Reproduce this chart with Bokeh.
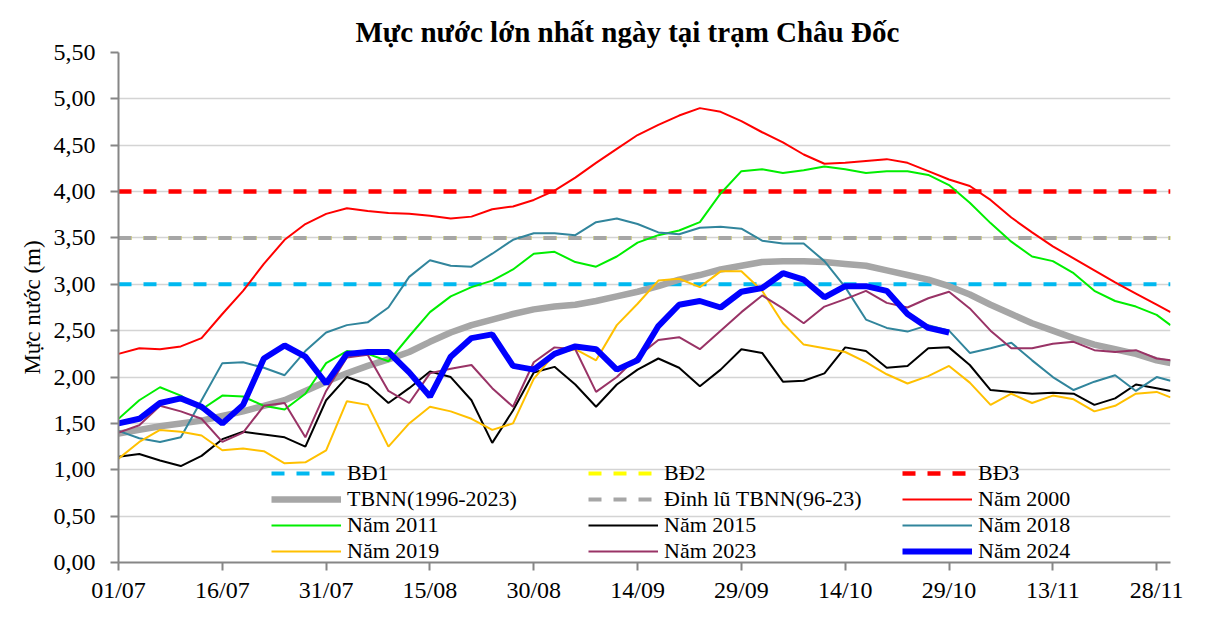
from bokeh.plotting import figure
from bokeh.models import Legend, LegendItem, FixedTicker, Range1d
from bokeh.embed import file_html
from bokeh.resources import INLINE

# ---------------- data ----------------
title_text = "Mực nước lớn nhất ngày tại trạm Châu Đốc"
y_label = "Mực nước (m)"

tick_days = [0, 15, 30, 45, 60, 75, 90, 105, 120, 135, 150]
tick_labels = ["01/07", "16/07", "31/07", "15/08", "30/08", "14/09",
               "29/09", "14/10", "29/10", "13/11", "28/11"]
y_ticks = [0.0, 0.5, 1.0, 1.5, 2.0, 2.5, 3.0, 3.5, 4.0, 4.5, 5.0, 5.5]
y_tick_labels = ["0,00", "0,50", "1,00", "1,50", "2,00", "2,50",
                 "3,00", "3,50", "4,00", "4,50", "5,00", "5,50"]

# day index counted from 01/07
days = [0, 3, 6, 9, 12, 15, 18, 21, 24, 27, 30, 33, 36, 39, 42, 45, 48, 51,
        54, 57, 60, 63, 66, 69, 72, 75, 78, 81, 84, 87, 90, 93, 96, 99, 102,
        105, 108, 111, 114, 117, 120, 123, 126, 129, 132, 135, 138, 141, 144,
        147, 150, 152]
days_2024 = days[:41]

bd1 = 3.0
bd2 = 3.5
bd3 = 4.0
dinh_lu_tbnn = 3.5

tbnn = [1.39, 1.43, 1.47, 1.50, 1.53, 1.58, 1.63, 1.69, 1.75, 1.85,
        1.95, 2.04, 2.12, 2.19, 2.27, 2.38, 2.48, 2.56, 2.62, 2.68,
        2.73, 2.76, 2.78, 2.82, 2.87, 2.92, 2.98, 3.05, 3.10, 3.16,
        3.20, 3.24, 3.25, 3.25, 3.24, 3.22, 3.20, 3.15, 3.10, 3.05,
        2.98, 2.89, 2.78, 2.68, 2.58, 2.50, 2.42, 2.35, 2.30, 2.25,
        2.18, 2.15]
y2000 = [2.25, 2.31, 2.30, 2.33, 2.42, 2.68, 2.93, 3.22, 3.48, 3.65,
         3.76, 3.82, 3.79, 3.77, 3.76, 3.74, 3.71, 3.73, 3.81, 3.84,
         3.91, 4.01, 4.15, 4.31, 4.46, 4.61, 4.72, 4.82, 4.90, 4.86,
         4.76, 4.64, 4.53, 4.40, 4.30, 4.31, 4.33, 4.35, 4.31, 4.22,
         4.13, 4.06, 3.91, 3.72, 3.56, 3.41, 3.28, 3.15, 3.02, 2.90,
         2.78, 2.70]
y2011 = [1.55, 1.75, 1.89, 1.80, 1.65, 1.80, 1.79, 1.69, 1.65, 1.82,
         2.15, 2.28, 2.25, 2.17, 2.44, 2.70, 2.87, 2.97, 3.04, 3.16,
         3.33, 3.35, 3.24, 3.19, 3.30, 3.45, 3.53, 3.58, 3.67, 3.98,
         4.22, 4.24, 4.20, 4.23, 4.27, 4.24, 4.20, 4.22, 4.22, 4.18,
         4.07, 3.88, 3.66, 3.46, 3.30, 3.25, 3.12, 2.93, 2.82, 2.76,
         2.67, 2.56]
y2015 = [1.14, 1.17, 1.10, 1.04, 1.15, 1.33, 1.41, 1.38, 1.35, 1.25,
         1.75, 2.00, 1.92, 1.72, 1.88, 2.06, 2.00, 1.75, 1.29, 1.64,
         2.05, 2.11, 1.92, 1.68, 1.92, 2.08, 2.20, 2.10, 1.90, 2.08,
         2.30, 2.26, 1.95, 1.96, 2.04, 2.32, 2.28, 2.10, 2.12, 2.31,
         2.32, 2.13, 1.86, 1.84, 1.82, 1.83, 1.82, 1.70, 1.77, 1.92,
         1.88, 1.85]
y2018 = [1.42, 1.34, 1.30, 1.35, 1.75, 2.15, 2.16, 2.10, 2.02, 2.28,
         2.48, 2.56, 2.59, 2.75, 3.08, 3.26, 3.20, 3.19, 3.33, 3.48,
         3.55, 3.55, 3.53, 3.67, 3.71, 3.65, 3.56, 3.54, 3.61, 3.62,
         3.60, 3.47, 3.44, 3.44, 3.25, 2.97, 2.62, 2.53, 2.49, 2.56,
         2.50, 2.26, 2.31, 2.37, 2.18, 2.00, 1.86, 1.95, 2.02, 1.85,
         2.00, 1.96]
y2019 = [1.12, 1.30, 1.43, 1.41, 1.37, 1.21, 1.23, 1.20, 1.07, 1.08,
         1.21, 1.74, 1.70, 1.25, 1.50, 1.68, 1.63, 1.55, 1.43, 1.50,
         1.98, 2.25, 2.30, 2.18, 2.56, 2.79, 3.04, 3.06, 2.97, 3.14,
         3.14, 2.93, 2.58, 2.35, 2.31, 2.27, 2.16, 2.03, 1.93, 2.01,
         2.12, 1.94, 1.70, 1.82, 1.72, 1.80, 1.76, 1.63, 1.69, 1.82,
         1.84, 1.78]
y2023 = [1.40, 1.48, 1.69, 1.63, 1.55, 1.30, 1.40, 1.69, 1.72, 1.35,
         1.85, 2.21, 2.24, 1.85, 1.72, 2.04, 2.09, 2.13, 1.88, 1.68,
         2.16, 2.32, 2.30, 1.84, 2.00, 2.22, 2.40, 2.43, 2.30, 2.50,
         2.70, 2.88, 2.74, 2.58, 2.76, 2.84, 2.93, 2.80, 2.75, 2.85,
         2.92, 2.74, 2.50, 2.31, 2.31, 2.36, 2.38, 2.29, 2.27, 2.29,
         2.20, 2.18]
y2024 = [1.50, 1.55, 1.72, 1.77, 1.68, 1.50, 1.70, 2.20, 2.34, 2.22,
         1.93, 2.25, 2.27, 2.27, 2.05, 1.79, 2.22, 2.42, 2.46, 2.12,
         2.08, 2.25, 2.33, 2.30, 2.08, 2.18, 2.55, 2.78, 2.82, 2.75,
         2.92, 2.96, 3.12, 3.05, 2.86, 2.98, 2.98, 2.93, 2.68, 2.53,
         2.48]

# ---------------- figure ----------------
FONT = "Liberation Serif"

p = figure(width=1198, height=612, output_backend="svg", toolbar_location=None,
           x_range=Range1d(0, 152), y_range=Range1d(0, 5.5),
           min_border_left=118, min_border_right=28,
           min_border_top=52, min_border_bottom=50)
p.outline_line_color = None
p.background_fill_color = "white"

p.title.text = title_text
p.title.text_font = FONT
p.title.text_font_size = "29px"
p.title.text_font_style = "bold"
p.title.align = "left"
p.title.offset = 237
p.title.text_color = "black"

for ax in (p.xaxis[0], p.yaxis[0]):
    ax.axis_line_color = "#868686"
    ax.axis_line_width = 2
    ax.major_tick_line_color = "#868686"
    ax.major_tick_line_width = 2
    ax.major_tick_out = 8
    ax.major_tick_in = 0
    ax.minor_tick_line_color = None
    ax.major_label_text_font = FONT
    ax.major_label_text_font_size = "24px"
    ax.major_label_text_color = "black"

p.xaxis.ticker = FixedTicker(ticks=tick_days)
p.xaxis.major_label_overrides = {d: s for d, s in zip(tick_days, tick_labels)}
p.xaxis.major_label_standoff = 6
p.yaxis.ticker = FixedTicker(ticks=y_ticks)
p.yaxis.major_label_overrides = {v: s for v, s in zip(y_ticks, y_tick_labels)}
p.yaxis.major_label_standoff = 15
p.yaxis.axis_label = y_label
p.yaxis.axis_label_text_font = FONT
p.yaxis.axis_label_text_font_size = "23px"
p.yaxis.axis_label_text_font_style = "normal"
p.yaxis.axis_label_text_color = "black"
p.yaxis.axis_label_standoff = 6

p.xgrid.grid_line_color = None
p.ygrid.grid_line_color = "#d4d4d4"
p.ygrid.grid_line_width = 1.5

x_span = [days[0], days[-1]]
dash = "13 12"

r_bd1 = p.line(x_span, [bd1, bd1], line_color="#00B8F0", line_width=4, line_dash=dash)
r_bd2 = p.line(x_span, [bd2, bd2], line_color="#FFFF00", line_width=4, line_dash=dash)
r_bd3 = p.line(x_span, [bd3, bd3], line_color="#FF0000", line_width=4.5, line_dash=dash)
r_tbnn = p.line(days, tbnn, line_color="#A6A6A6", line_width=6.5)
r_dinh = p.line(x_span, [dinh_lu_tbnn, dinh_lu_tbnn], line_color="#A6A6A6", line_width=4, line_dash=dash)
r_2000 = p.line(days, y2000, line_color="#FF0000", line_width=2)
r_2011 = p.line(days, y2011, line_color="#00EE00", line_width=2)
r_2015 = p.line(days, y2015, line_color="#000000", line_width=2)
r_2018 = p.line(days, y2018, line_color="#31859C", line_width=2)
r_2019 = p.line(days, y2019, line_color="#FFC000", line_width=2)
r_2023 = p.line(days, y2023, line_color="#993366", line_width=2)
r_2024 = p.line(days_2024, y2024, line_color="#0000FF", line_width=6)

def make_legend(items, x):
    lg = Legend(items=[LegendItem(label=l, renderers=[r]) for l, r in items],
                location=(x, -2), orientation="vertical", padding=0, margin=0,
                spacing=0, glyph_width=70, glyph_height=22, label_height=22,
                label_standoff=6, label_text_font=FONT, label_text_font_size="22px",
                label_text_color="black",
                background_fill_alpha=0, border_line_alpha=0)
    p.add_layout(lg, "center")

make_legend([("BĐ1", r_bd1), ("TBNN(1996-2023)", r_tbnn),
             ("Năm 2011", r_2011), ("Năm 2019", r_2019)], 153)
make_legend([("BĐ2", r_bd2), ("Đỉnh lũ TBNN(96-23)", r_dinh),
             ("Năm 2015", r_2015), ("Năm 2023", r_2023)], 470)
make_legend([("BĐ3", r_bd3), ("Năm 2000", r_2000),
             ("Năm 2018", r_2018), ("Năm 2024", r_2024)], 784)

open("out.html", "w").write(file_html(p, INLINE))
